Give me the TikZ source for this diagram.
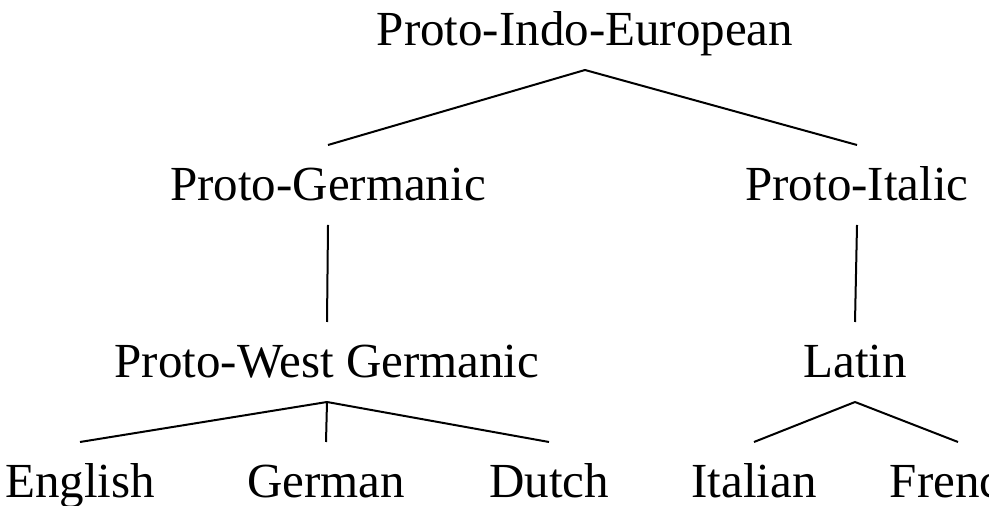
\documentclass[tikz,border=0pt]{standalone}
\usepackage{fontspec}
\setmainfont{Liberation Serif}
\usetikzlibrary{positioning}

\begin{document}
\begin{tikzpicture}[
    x = 0.5pt, y = -0.5pt, % pixel grid, y grows downwards
    semithick, % line style
    line width = 1pt
    ]

    \tikzset{lang/.style={
    anchor = base,
    text height = 16pt,
    text depth = 0pt,
    inner xsep = 0pt,
    inner ysep = 11.5pt,
    font = \fontsize{24.5}{29}\selectfont
    }}

    \useasboundingbox (0,0) rectangle (989,506);
    \clip (0,0) rectangle (989,506);

    \node[lang] (pie) at (585,46) {Proto-Indo-European};
    \node[lang] (pgm) at (328,201) {Proto-Germanic};
    \node[lang] (pit) at (857,201) {Proto-Italic};
    \node[lang] (pwg) at (327,378) {Proto-West Germanic};
    \node[lang] (lat) at (855,378) {Latin};
    \node[lang] (eng) at (80,498) {English};
    \node[lang] (ger) at (326,498) {German};
    \node[lang] (dut) at (549,498) {Dutch};
    \node[lang] (ita) at (754,498) {Italian};
    \node[lang] (fre) at (958,498) {French};

    \draw (pie.south) -- (pgm.north);
    \draw (pie.south) -- (pit.north);
    \draw (pgm.south) -- (pwg.north);
    \draw (pit.south) -- (lat.north);
    \draw (pwg.south) -- (eng.north);
    \draw (pwg.south) -- (ger.north);
    \draw (pwg.south) -- (dut.north);
    \draw (lat.south) -- (ita.north);
    \draw (lat.south) -- (fre.north);

\end{tikzpicture}
\end{document}
